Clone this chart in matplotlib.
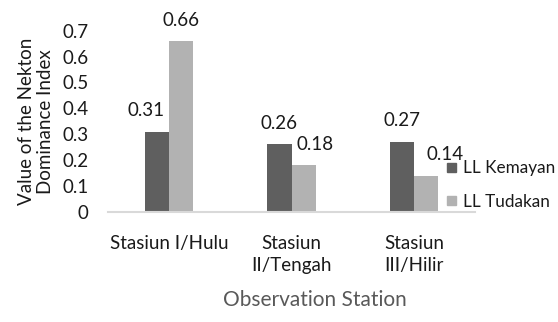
import matplotlib
matplotlib.use("Agg")
import matplotlib.pyplot as plt
import numpy as np
from matplotlib.patches import Patch

plt.rcParams["font.family"] = ["Lato", "DejaVu Sans"]

stations = ["Stasiun I/Hulu", "Stasiun\nII/Tengah", "Stasiun\nIII/Hilir"]
kemayan = [0.31, 0.26, 0.27]
tudakan = [0.66, 0.18, 0.14]
series_names = ["LL Kemayan", "LL Tudakan"]

dark = "#5f5f5f"
light = "#b2b2b2"
text_color = "#1a1a1a"
fs = 13.5

fig = plt.figure(figsize=(5.58, 3.22), dpi=100)
ax = fig.add_axes([108 / 558, 110.3 / 322, 367 / 558, 181 / 322])

x = np.arange(len(stations))
w = 0.197
b1 = ax.bar(x - w / 2, kemayan, w, color=dark)
b2 = ax.bar(x + w / 2, tudakan, w, color=light)

# value labels, nudged sideways a bit so neighbours don't collide
dx1 = [-8, 0, 0]
dx2 = [0, 8, 14]
for rect, v, d in zip(b1, kemayan, dx1):
    ax.annotate(f"{v:.2f}", (rect.get_x() + rect.get_width() / 2, v),
                xytext=(d, 9), textcoords="offset points",
                ha="center", va="bottom", fontsize=fs, color=text_color)
for rect, v, d in zip(b2, tudakan, dx2):
    ax.annotate(f"{v:.2f}", (rect.get_x() + rect.get_width() / 2, v),
                xytext=(d, 9), textcoords="offset points",
                ha="center", va="bottom", fontsize=fs, color=text_color)

ax.set_xlim(-0.5, 2.5)
ax.set_ylim(0, 0.7)
ax.set_yticks(np.arange(0, 0.71, 0.1))
ax.set_yticklabels(["0"] + [f"{t:.1f}" for t in np.arange(0.1, 0.71, 0.1)])
ax.set_xticks(x)
ax.set_xticklabels(stations, linespacing=1.3)
ax.tick_params(axis="y", length=0, pad=14, labelsize=fs, labelcolor=text_color)
ax.tick_params(axis="x", length=0, pad=17, labelsize=fs, labelcolor=text_color)

for s in ["top", "right", "left"]:
    ax.spines[s].set_visible(False)
ax.spines["bottom"].set_color("#d9d9d9")
ax.spines["bottom"].set_linewidth(1.5)

ax.set_ylabel("Value of the Nekton\nDominance Index", fontsize=fs,
              color=text_color, labelpad=6, linespacing=1.15)
fig.text(315 / 558, 1 - 300 / 322, "Observation Station", ha="center",
         va="center", fontsize=15, color="#595959")

handles = [Patch(color=dark), Patch(color=light)]
fig.legend(handles, series_names, loc="center left",
           bbox_to_anchor=(432 / 558, 1 - 185 / 322), frameon=False,
           fontsize=12.3, handlelength=0.5, handleheight=0.5,
           handletextpad=0.4, labelspacing=1.0, labelcolor=text_color)

fig.savefig("out.png", dpi=100)
